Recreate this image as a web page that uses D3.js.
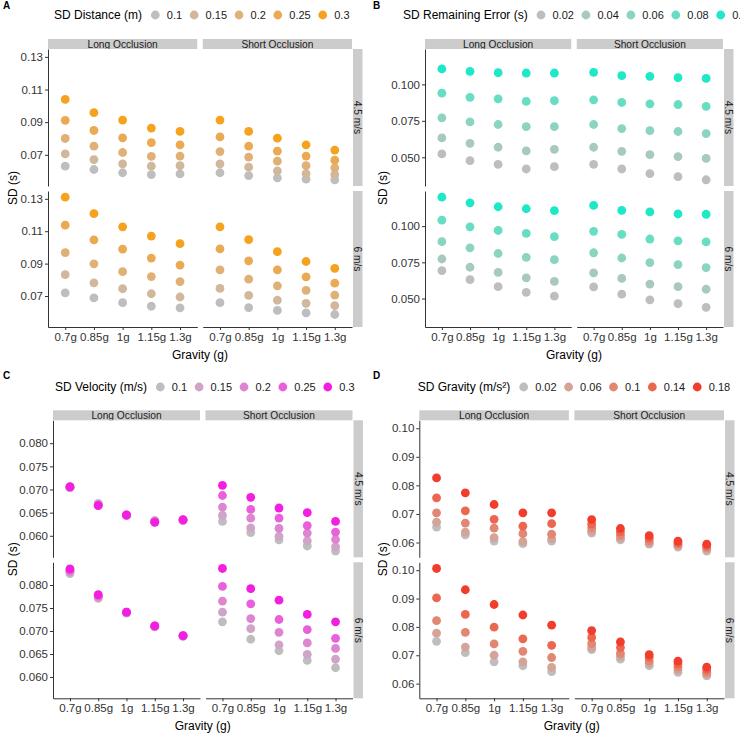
<!DOCTYPE html>
<html><head><meta charset="utf-8">
<script src="https://cdn.jsdelivr.net/npm/d3@7"></script>
<style>body{margin:0;background:#fff} svg{display:block;font-family:"Liberation Sans",Arial,sans-serif;background:#fff}</style>
</head><body><svg id="c" width="740" height="734"></svg>
<script>
// ---------- data ----------
const gravityLabels = ["0.7g","0.85g","1g","1.15g","1.3g"];
const occlusionLabels = ["Long Occlusion","Short Occlusion"];
const speedLabels = ["4.5 m/s","6 m/s"];

// Panel A: SD Distance (m); rows = levels (low->high), cols = gravity
const distLevels = [0.1,0.15,0.2,0.25,0.3];
const distLevelLabels = ["0.1","0.15","0.2","0.25","0.3"];
const distLong45 = [
  [0.0630,0.0610,0.0590,0.0579,0.0583],
  [0.0706,0.0671,0.0645,0.0630,0.0633],
  [0.0800,0.0753,0.0714,0.0690,0.0692],
  [0.0911,0.0849,0.0804,0.0774,0.0761],
  [0.1039,0.0958,0.0913,0.0864,0.0843]];
const distShort45 = [
  [0.0590,0.0573,0.0559,0.0551,0.0547],
  [0.0645,0.0624,0.0602,0.0585,0.0579],
  [0.0720,0.0686,0.0661,0.0633,0.0620],
  [0.0810,0.0753,0.0722,0.0692,0.0667],
  [0.0913,0.0843,0.0802,0.0761,0.0729]];
const distLong6 = [
  [0.0720,0.0688,0.0659,0.0637,0.0627],
  [0.0832,0.0781,0.0745,0.0714,0.0694],
  [0.0968,0.0899,0.0850,0.0820,0.0789],
  [0.1137,0.1046,0.0989,0.0934,0.0891],
  [0.1310,0.1208,0.1127,0.1070,0.1023]];
const distShort6 = [
  [0.0659,0.0629,0.0611,0.0596,0.0586],
  [0.0747,0.0704,0.0674,0.0655,0.0641],
  [0.0861,0.0804,0.0763,0.0735,0.0706],
  [0.0991,0.0917,0.0861,0.0818,0.0779],
  [0.1127,0.1048,0.0974,0.0913,0.0871]];
const distTicks = [0.07,0.09,0.11,0.13];

// Panel B: SD Remaining Error (s)
const errLevels = [0.02,0.04,0.06,0.08,0.1];
const errLevelLabels = ["0.02","0.04","0.06","0.08","0.1"];
const errLong45 = [
  [0.0523,0.0477,0.0452,0.0420,0.0436],
  [0.0633,0.0596,0.0569,0.0544,0.0555],
  [0.0771,0.0743,0.0725,0.0711,0.0711],
  [0.0940,0.0911,0.0901,0.0883,0.0888],
  [0.1106,0.1089,0.1080,0.1078,0.1078]];
const errShort45 = [
  [0.0452,0.0420,0.0388,0.0367,0.0346],
  [0.0569,0.0541,0.0518,0.0505,0.0493],
  [0.0725,0.0697,0.0683,0.0677,0.0663],
  [0.0894,0.0876,0.0867,0.0862,0.0849],
  [0.1083,0.1060,0.1055,0.1046,0.1041]];
const errLong6 = [
  [0.0693,0.0630,0.0582,0.0543,0.0516],
  [0.0773,0.0716,0.0680,0.0643,0.0618],
  [0.0893,0.0850,0.0811,0.0784,0.0768],
  [0.1041,0.0995,0.0970,0.0950,0.0927],
  [0.1200,0.1161,0.1134,0.1120,0.1107]];
const errShort6 = [
  [0.0580,0.0530,0.0491,0.0464,0.0439],
  [0.0677,0.0639,0.0600,0.0582,0.0564],
  [0.0816,0.0780,0.0748,0.0734,0.0714],
  [0.0964,0.0943,0.0911,0.0898,0.0891],
  [0.1143,0.1109,0.1098,0.1084,0.1082]];
const errTicks = [0.050,0.075,0.100];

// Panel C: SD Velocity (m/s)
const velLevels = [0.1,0.15,0.2,0.25,0.3];
const velLevelLabels = ["0.1","0.15","0.2","0.25","0.3"];
const velLong45 = [
  [0.0704,0.0670,0.0644,0.0633,0.0634],
  [0.0704,0.0668,0.0644,0.0632,0.0633],
  [0.0705,0.0667,0.0645,0.0631,0.0634],
  [0.0705,0.0666,0.0644,0.0630,0.0634],
  [0.0706,0.0665,0.0645,0.0629,0.0635]];
const velShort45 = [
  [0.0631,0.0607,0.0591,0.0578,0.0567],
  [0.0644,0.0617,0.0599,0.0589,0.0576],
  [0.0662,0.0638,0.0616,0.0606,0.0592],
  [0.0687,0.0657,0.0638,0.0622,0.0608],
  [0.0709,0.0683,0.0660,0.0650,0.0631]];
const velLong6 = [
  [0.0825,0.0771,0.0739,0.0709,0.0689],
  [0.0828,0.0773,0.0740,0.0710,0.0689],
  [0.0830,0.0775,0.0740,0.0710,0.0689],
  [0.0833,0.0777,0.0741,0.0711,0.0690],
  [0.0835,0.0779,0.0741,0.0711,0.0690]];
const velShort6 = [
  [0.0720,0.0682,0.0657,0.0636,0.0620],
  [0.0741,0.0705,0.0670,0.0649,0.0639],
  [0.0765,0.0727,0.0697,0.0674,0.0662],
  [0.0797,0.0759,0.0725,0.0703,0.0684],
  [0.0836,0.0792,0.0767,0.0736,0.0720]];
const velTicks = [0.060,0.065,0.070,0.075,0.080];

// Panel D: SD Gravity (m/s²)
const gravLevels = [0.02,0.06,0.1,0.14,0.18];
const gravLevelLabels = ["0.02","0.06","0.1","0.14","0.18"];
const gravLong45 = [
  [0.0654,0.0627,0.0605,0.0596,0.0605],
  [0.0671,0.0636,0.0617,0.0603,0.0613],
  [0.0704,0.0668,0.0650,0.0631,0.0629],
  [0.0756,0.0711,0.0681,0.0657,0.0666],
  [0.0826,0.0774,0.0733,0.0704,0.0704]];
const gravShort45 = [
  [0.0633,0.0609,0.0594,0.0584,0.0570],
  [0.0639,0.0615,0.0598,0.0588,0.0576],
  [0.0651,0.0625,0.0606,0.0594,0.0582],
  [0.0664,0.0637,0.0615,0.0599,0.0588],
  [0.0680,0.0649,0.0624,0.0605,0.0594]];
const gravLong6 = [
  [0.0749,0.0709,0.0677,0.0663,0.0642],
  [0.0778,0.0729,0.0700,0.0677,0.0657],
  [0.0822,0.0781,0.0740,0.0714,0.0692],
  [0.0902,0.0844,0.0799,0.0758,0.0735],
  [0.1006,0.0931,0.0879,0.0842,0.0806]];
const gravShort6 = [
  [0.0720,0.0686,0.0663,0.0640,0.0627],
  [0.0727,0.0697,0.0671,0.0648,0.0633],
  [0.0741,0.0707,0.0680,0.0658,0.0640],
  [0.0763,0.0727,0.0693,0.0669,0.0649],
  [0.0787,0.0747,0.0702,0.0679,0.0658]];
const gravTicks = [0.06,0.07,0.08,0.09,0.10];

// ---------- chart ----------
const svg = d3.select("#c");
const LOW = "#BEBEBE";

const charts = [
  {tag:"A", ox:0,   oy:0,     left:48,  right:352, legendX:54,  title:"SD Distance (m)",
   levels:distLevels, levelLabels:distLevelLabels, high:"#F5A31E",
   grid:[[distLong45,distShort45],[distLong6,distShort6]], ticks:distTicks, fmt:".2f"},
  {tag:"B", ox:370, oy:0,     left:55,  right:353, legendX:33,  title:"SD Remaining Error (s)",
   levels:errLevels, levelLabels:errLevelLabels, high:"#1FE8C6",
   grid:[[errLong45,errShort45],[errLong6,errShort6]], ticks:errTicks, fmt:".3f"},
  {tag:"C", ox:0,   oy:371.3, left:53,  right:352.5, legendX:55, title:"SD Velocity (m/s)",
   levels:velLevels, levelLabels:velLevelLabels, high:"#F21EE2",
   grid:[[velLong45,velShort45],[velLong6,velShort6]], ticks:velTicks, fmt:".3f"},
  {tag:"D", ox:370, oy:371.3, left:49.3, right:354, legendX:47.7, title:"SD Gravity (m/s\u00B2)",
   levels:gravLevels, levelLabels:gravLevelLabels, high:"#F23C2C",
   grid:[[gravLong45,gravShort45],[gravLong6,gravShort6]], ticks:gravTicks, fmt:".2f"}
];

const rowsY = [[49,186],[191,327]];
const stripTop = 39;
let clipId = 0;

charts.forEach(c => {
  const g = svg.append("g").attr("transform", `translate(${c.ox},${c.oy})`);
  const gap = 5.5;
  const pw = (c.right - c.left - gap) / 2;
  const colsX = [[c.left, c.left + pw], [c.left + pw + gap, c.right]];

  const allVals = c.grid.flat(3);
  const [mn, mx] = d3.extent(allVals);
  const pad = (mx - mn) * 0.05;
  const color = d3.scaleLinear()
    .domain([c.levels[0], c.levels[c.levels.length - 1]])
    .range([LOW, c.high]).interpolate(d3.interpolateLab);

  // panel tag
  g.append("text").attr("x", 3).attr("y", c.oy ? 11 - 4.3 + 1 : 9)
    .attr("font-size", 10).attr("font-weight", "bold").text(c.tag);

  // legend
  const lg = g.append("g").attr("transform", `translate(0,${c.oy ? 15.7 : 15})`);
  const tt = lg.append("text").attr("x", c.legendX).attr("y", 0).attr("dy", "0.35em")
    .attr("font-size", 12).attr("fill", "#000").text(c.title);
  let cx = c.legendX + tt.node().getComputedTextLength() + 13.3;
  c.levels.forEach((lv, i) => {
    lg.append("circle").attr("cx", cx).attr("cy", 0).attr("r", 4.4).attr("fill", color(lv));
    const t = lg.append("text").attr("x", cx + 11.5).attr("y", 0).attr("dy", "0.35em")
      .attr("font-size", 11).attr("fill", "#1a1a1a").text(c.levelLabels[i]);
    cx = cx + 11.5 + t.node().getComputedTextLength() + 12;
  });

  // strips (top)
  colsX.forEach((cxr, k) => {
    const id = "clip" + (clipId++);
    g.append("clipPath").attr("id", id).append("rect")
      .attr("x", cxr[0]).attr("y", stripTop).attr("width", cxr[1] - cxr[0]).attr("height", 10);
    g.append("rect").attr("x", cxr[0]).attr("y", stripTop).attr("width", cxr[1] - cxr[0])
      .attr("height", 10).attr("fill", "#CCCCCC");
    g.append("text").attr("clip-path", `url(#${id})`)
      .attr("x", (cxr[0] + cxr[1]) / 2).attr("y", stripTop + 8.6)
      .attr("text-anchor", "middle").attr("font-size", 10.2).attr("fill", "#1a1a1a")
      .text(occlusionLabels[k]);
  });

  rowsY.forEach((ry, r) => {
    const y = d3.scaleLinear().domain([mn - pad, mx + pad]).range([ry[1], ry[0]]);
    // right strip
    g.append("rect").attr("x", c.right + 1).attr("y", ry[0]).attr("width", 9.5)
      .attr("height", ry[1] - ry[0]).attr("fill", "#CCCCCC");
    g.append("text")
      .attr("transform", `translate(${c.right + 5.75},${(ry[0] + ry[1]) / 2}) rotate(90)`)
      .attr("text-anchor", "middle").attr("dy", "0.35em")
      .attr("font-size", 10.2).attr("fill", "#1a1a1a").text(speedLabels[r]);

    // y axis
    const ya = g.append("g").attr("transform", `translate(${colsX[0][0]},0)`)
      .call(d3.axisLeft(y).tickValues(c.ticks).tickFormat(d3.format(c.fmt))
        .tickSize(3).tickSizeOuter(0).tickPadding(2));
    ya.attr("font-size", null).attr("font-family", null);
    ya.selectAll("text").attr("font-size", 11.5).attr("fill", "#333");
    ya.selectAll("line,path").attr("stroke", "#333");

    colsX.forEach((cxr, k) => {
      const x = d3.scalePoint().domain(gravityLabels).range(cxr).padding(0.6);
      const data = c.grid[r][k];
      const pts = [];
      data.forEach((row, li) => row.forEach((v, gi) => pts.push({lv: c.levels[li], g: gravityLabels[gi], v})));
      g.append("g").selectAll("circle").data(pts).join("circle")
        .attr("cx", d => x(d.g)).attr("cy", d => y(d.v)).attr("r", 4.4)
        .attr("fill", d => color(d.lv));
      if (r === 1) {
        const xa = g.append("g").attr("transform", `translate(0,${ry[1]})`)
          .call(d3.axisBottom(x).tickSize(3).tickSizeOuter(0).tickPadding(3));
        xa.attr("font-size", null).attr("font-family", null);
        xa.selectAll("text").attr("font-size", 11.5).attr("fill", "#333");
        xa.selectAll("line,path").attr("stroke", "#333");
      }
    });
  });

  // axis titles
  g.append("text").attr("x", (c.left + c.right) / 2).attr("y", 359)
    .attr("text-anchor", "middle").attr("font-size", 12).attr("fill", "#000").text("Gravity (g)");
  g.append("text").attr("transform", `translate(${c.ox ? 13 : 12.5},${(rowsY[0][0] + rowsY[1][1]) / 2}) rotate(-90)`)
    .attr("text-anchor", "middle").attr("dy", "0.35em").attr("font-size", 12).attr("fill", "#000").text("SD (s)");
});
</script>
</body></html>
